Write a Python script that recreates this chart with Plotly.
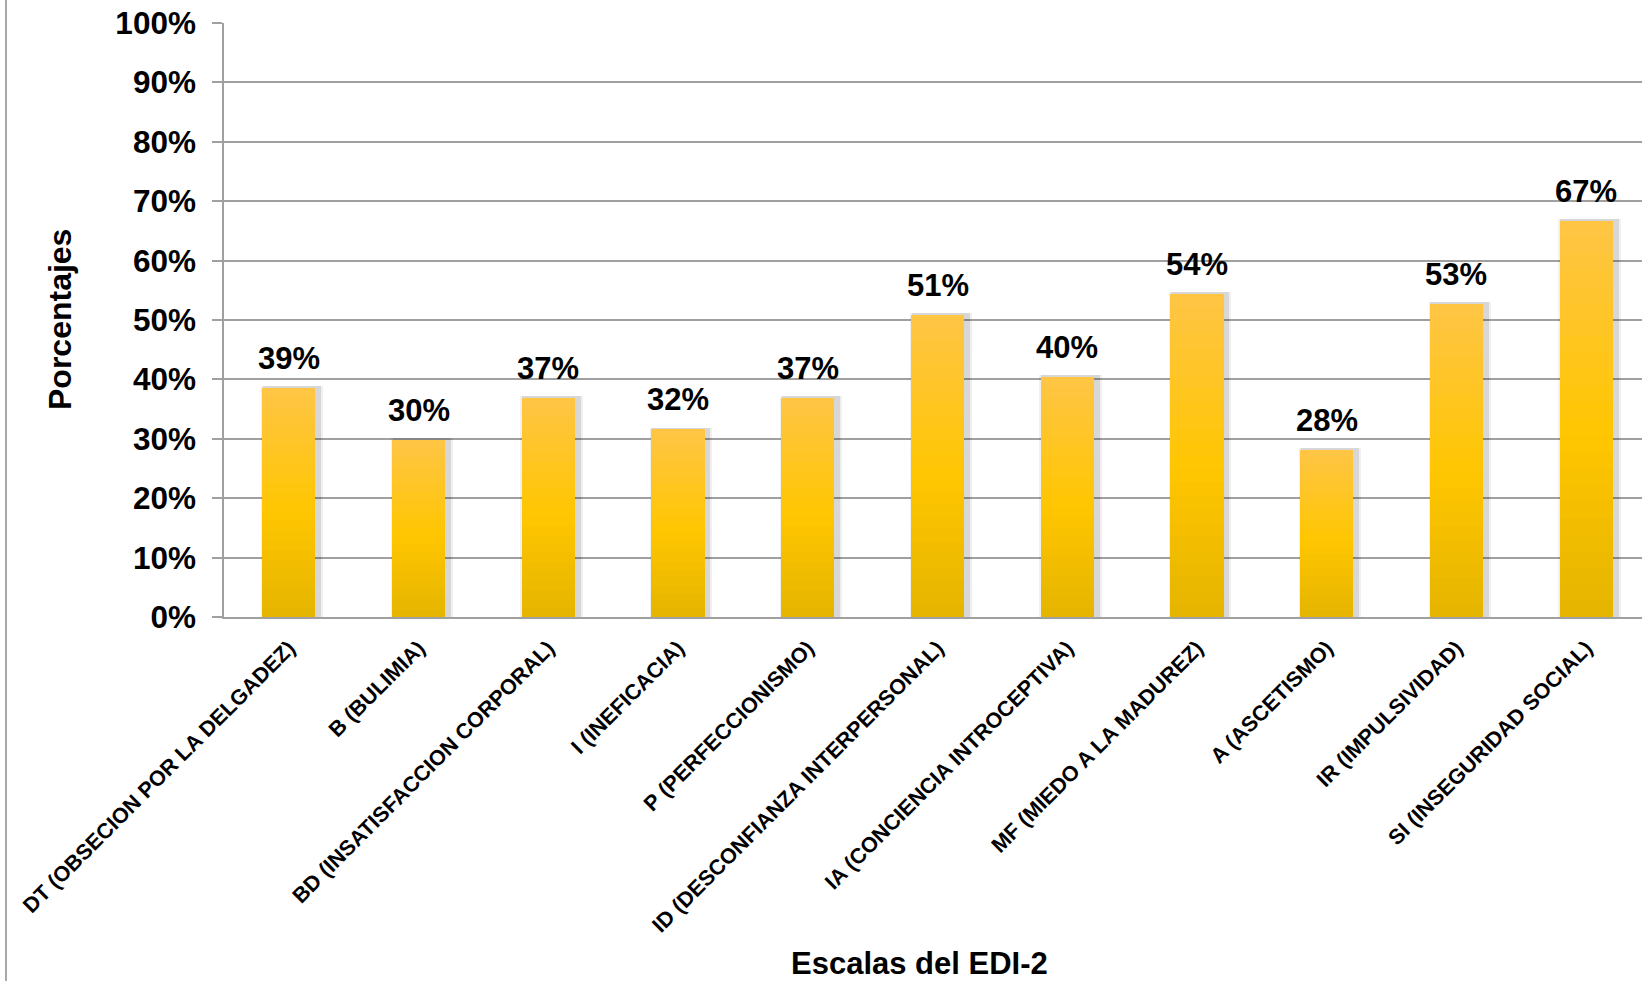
import plotly.graph_objects as go

categories = [
    "DT (OBSECION POR LA DELGADEZ)",
    "B (BULIMIA)",
    "BD (INSATISFACCION CORPORAL)",
    "I (INEFICACIA)",
    "P (PERFECCIONISMO)",
    "ID (DESCONFIANZA INTERPERSONAL)",
    "IA (CONCIENCIA INTROCEPTIVA)",
    "MF (MIEDO A LA MADUREZ)",
    "A (ASCETISMO)",
    "IR (IMPULSIVIDAD)",
    "SI (INSEGURIDAD SOCIAL)",
]
values = [38.6, 29.8, 36.9, 31.6, 36.9, 50.8, 40.4, 54.4, 28.1, 52.7, 66.7]
value_labels = ["39%", "30%", "37%", "32%", "37%", "51%", "40%", "54%", "28%", "53%", "67%"]
y_ticks = list(range(0, 101, 10))
y_tick_labels = [f"{t}%" for t in y_ticks]

FONT = "Liberation Sans, Arial, sans-serif"
BAR_W = 0.41
xs = list(range(len(categories)))

# gradient stops (fraction of bar height from bottom -> color)
stops = [(0.0, (229, 180, 0)), (0.45, (255, 198, 0)), (1.0, (255, 197, 70))]


def color_at(f):
    for (f0, c0), (f1, c1) in zip(stops[:-1], stops[1:]):
        if f0 <= f <= f1:
            t = (f - f0) / (f1 - f0)
            return "rgb(%d,%d,%d)" % tuple(round(a + (b - a) * t) for a, b in zip(c0, c1))
    return "rgb(%d,%d,%d)" % stops[-1][1]


fig = go.Figure()

# soft shadow
for extra, alpha in [(0.07, 0.06), (0.04, 0.10)]:
    fig.add_trace(go.Bar(
        x=xs, y=[v + 0.3 for v in values], width=BAR_W + extra,
        offset=-(BAR_W + extra) / 2 + 0.025,
        marker=dict(color=f"rgba(0,0,0,{alpha})", line=dict(width=0)),
        hoverinfo="skip", showlegend=False,
    ))

N = 24
for k in range(N, 0, -1):
    f = k / N
    fig.add_trace(go.Bar(
        x=xs, y=[v * f for v in values], width=BAR_W,
        marker=dict(color=color_at(f - 0.5 / N), line=dict(width=0)),
        hoverinfo="skip", showlegend=False,
    ))

for x, v, lab in zip(xs, values, value_labels):
    fig.add_annotation(
        x=x, y=v, xref="x", yref="y", text=f"<b>{lab}</b>", showarrow=False,
        yanchor="bottom", yshift=10, font=dict(family=FONT, size=31, color="black"),
    )

fig.add_annotation(
    xref="paper", yref="paper", x=0, y=0.5, xshift=-164, text="<b>Porcentajes</b>",
    textangle=-90, showarrow=False, xanchor="center", yanchor="middle",
    font=dict(family=FONT, size=32, color="black"),
)
fig.add_annotation(
    xref="paper", yref="paper", x=0, y=0, xshift=695, yshift=-346,
    text="<b>Escalas del EDI-2</b>", showarrow=False, xanchor="center", yanchor="middle",
    font=dict(family=FONT, size=31, color="black"),
)

# left border of chart area
fig.add_shape(type="line", xref="paper", yref="paper", x0=-218, x1=-218, y0=-1, y1=1.1,
              xsizemode="pixel", xanchor=0, line=dict(color="#A8A8A8", width=2))

fig.update_layout(
    width=1642, height=981,
    margin=dict(l=224, r=0, t=23, b=364),
    barmode="overlay", bargap=0,
    paper_bgcolor="white", plot_bgcolor="white",
    font=dict(family=FONT, color="black"),
    showlegend=False,
)
fig.update_xaxes(
    tickmode="array", tickvals=xs, ticktext=[f"<b>{c}</b>" for c in categories],
    tickangle=-45, tickfont=dict(family=FONT, size=21.5, color="black"),
    range=[-0.5, len(categories) - 0.5 - 9 / 129.75],
    showgrid=False, showline=True, linecolor="#A0A0A0", linewidth=2,
    ticks="", ticklabelstandoff=8, zeroline=False,
)
fig.update_yaxes(
    range=[0, 100], tickmode="array", tickvals=y_ticks,
    ticktext=[f"<b>{t}</b>" for t in y_tick_labels],
    tickfont=dict(family=FONT, size=31.5, color="black"),
    showgrid=True, gridcolor="#A0A0A0", gridwidth=1.5,
    showline=True, linecolor="#A0A0A0", linewidth=1.5,
    ticks="outside", ticklen=10, tickcolor="#A0A0A0", tickwidth=1.5,
    ticklabelstandoff=10, zeroline=False,
)

fig.write_html("out.html")
